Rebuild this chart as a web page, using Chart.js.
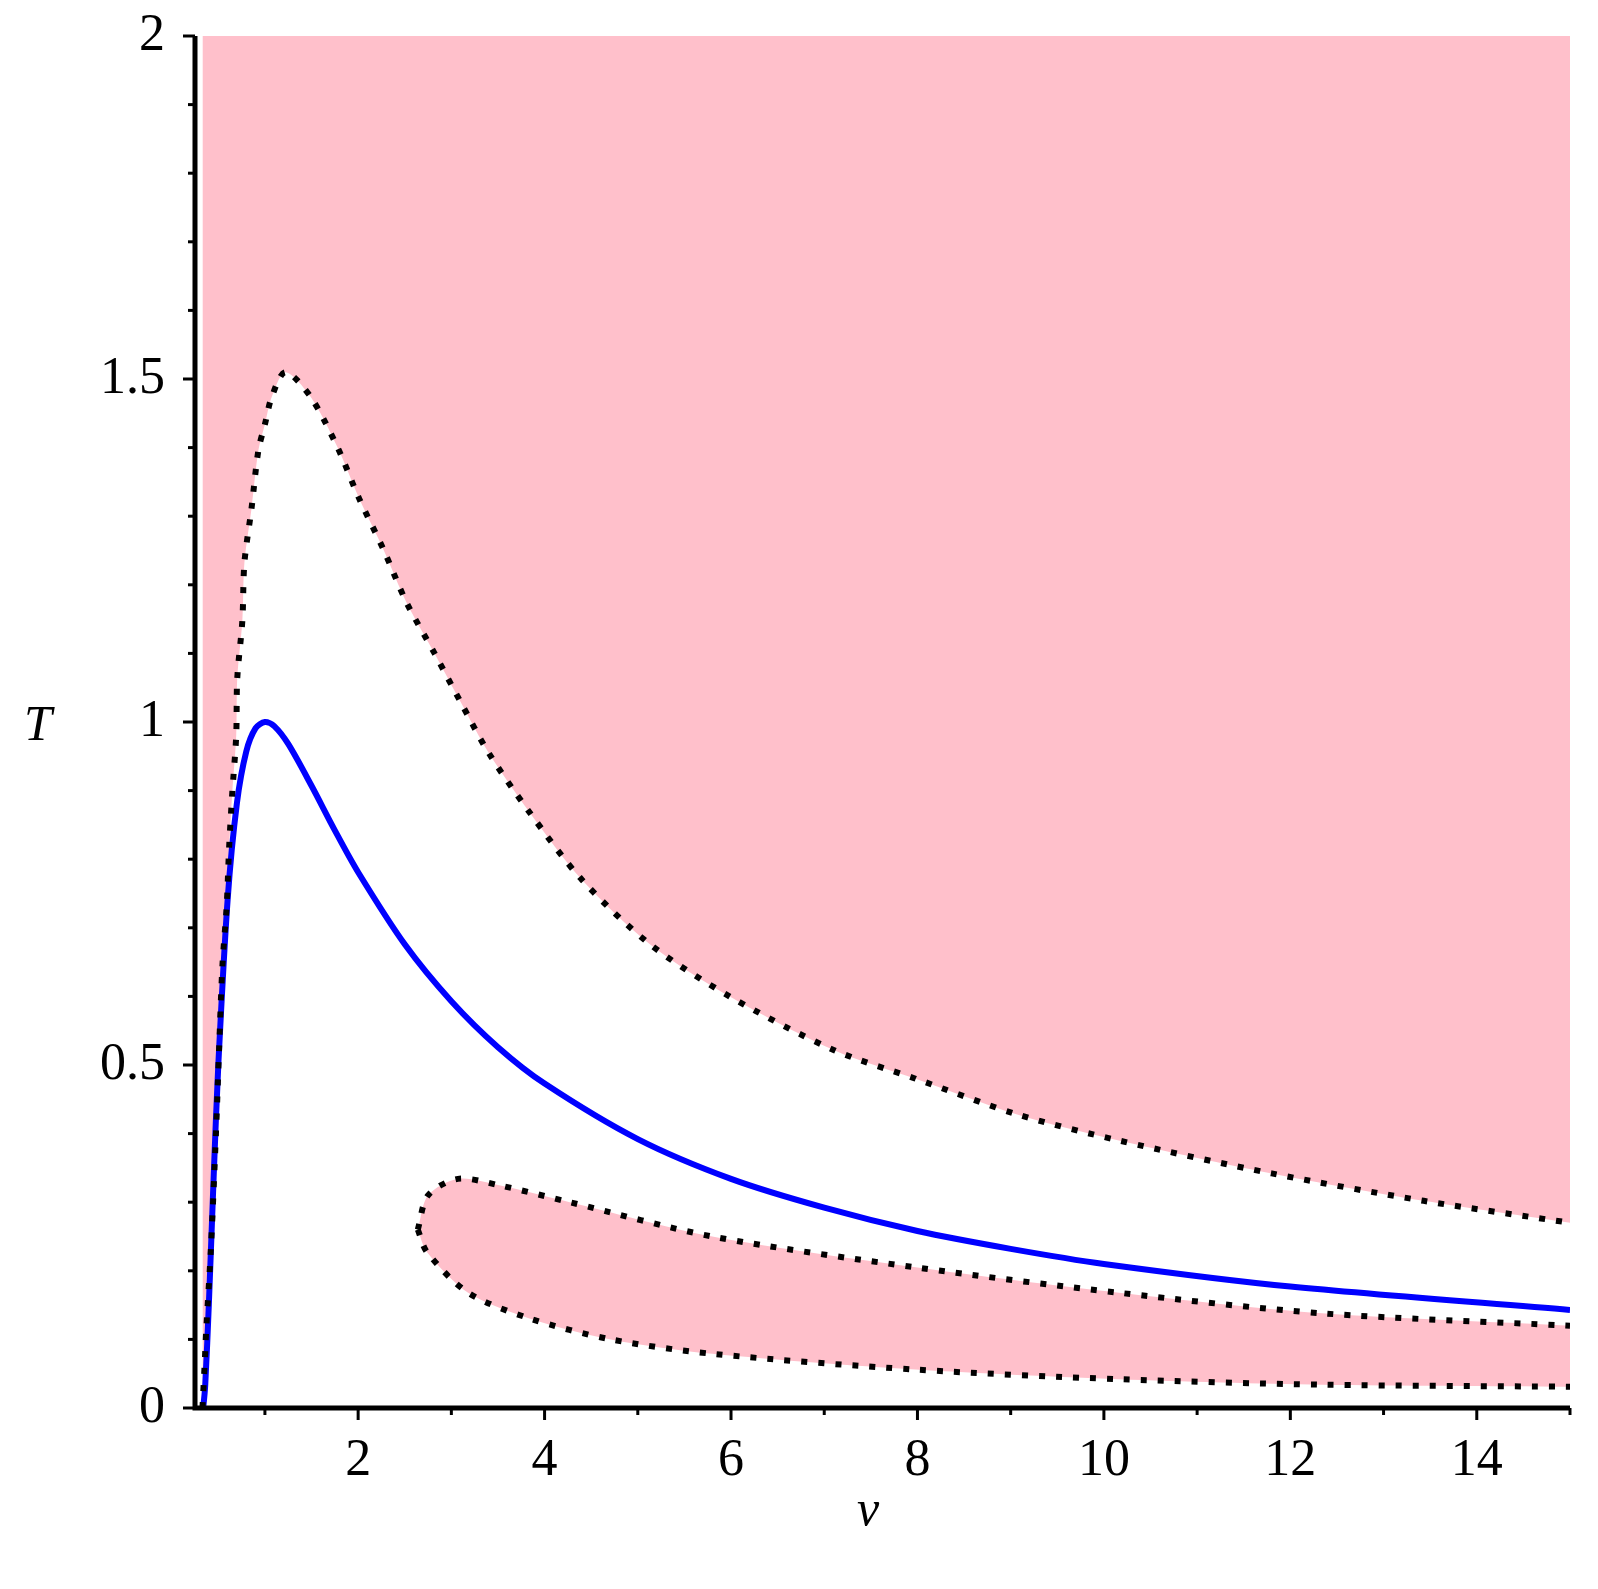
<!DOCTYPE html>
<html>
<head>
<meta charset="utf-8">
<script src="https://cdn.jsdelivr.net/npm/chart.js@4"></script>
<style>
  html, body { margin: 0; padding: 0; background: #fff; }
  #wrap { width: 1598px; height: 1589px; }
</style>
</head>
<body>
<div id="wrap"><canvas id="plot" width="1598" height="1589"></canvas></div>
<script>
// Spinodal (blue)
const spinV = [0.3333, 0.34, 0.36, 0.4, 0.45, 0.5, 0.6, 0.7, 0.8, 0.9, 1, 1.1, 1.25, 1.5, 1.75, 2, 2.5, 3, 3.5, 4, 5, 6, 7, 8, 9, 10, 12, 15];
const spinT = [0, 0.003, 0.034, 0.156, 0.336, 0.5, 0.741, 0.882, 0.957, 0.991, 1, 0.994, 0.968, 0.907, 0.842, 0.781, 0.676, 0.593, 0.526, 0.473, 0.392, 0.334, 0.292, 0.258, 0.232, 0.21, 0.177, 0.143];

// Upper dotted boundary (pink above)
const upperV = [0.33, 0.355, 0.37, 0.42, 0.475, 0.51, 0.545, 0.59, 0.616, 0.649, 0.692, 0.703, 0.758, 0.78, 0.856, 0.93, 1.0, 1.074, 1.22, 1.49, 1.78, 2.01, 2.27, 2.52, 2.82, 3.1, 3.4, 3.83, 4.4, 5.14, 6.01, 7.1, 7.98, 9.07, 10.16, 11.8, 13.43, 15];
const upperT = [0, 0.068, 0.113, 0.231, 0.401, 0.529, 0.647, 0.732, 0.817, 0.895, 0.98, 1.063, 1.148, 1.232, 1.311, 1.396, 1.434, 1.474, 1.51, 1.474, 1.40, 1.326, 1.252, 1.174, 1.10, 1.029, 0.955, 0.87, 0.77, 0.675, 0.598, 0.522, 0.48, 0.428, 0.39, 0.342, 0.302, 0.27];

// Lower closed loop (pink inside)
const loopTopV = [2.64, 2.75, 3.07, 3.5, 4.27, 5.8, 7.98, 10.16, 12.34, 15];
const loopTopT = [0.26, 0.31, 0.334, 0.325, 0.30, 0.25, 0.205, 0.168, 0.138, 0.12];
const loopBotV = [2.64, 2.74, 3.18, 3.83, 4.71, 5.8, 7.98, 10.16, 12.34, 15];
const loopBotT = [0.26, 0.227, 0.168, 0.131, 0.10, 0.079, 0.056, 0.042, 0.034, 0.031];

const xLabels = [2, 4, 6, 8, 10, 12, 14];
const yLabels = [0, 0.5, 1, 1.5, 2];

const pts = (xs, ys) => xs.map((x, i) => ({ x: x, y: ys[i] }));
const PINK = '#FFC0CB';
const FONT = '"Liberation Serif", "Times New Roman", serif';

const dotted = {
    borderColor: '#000',
    borderWidth: 6,
    borderDash: [6, 11],
    pointRadius: 0,
    tension: 0.3
};

// Draw major/minor tick marks, axis lines and titles
const axisDecor = {
    id: 'axisDecor',
    afterDraw(chart) {
        const ctx = chart.ctx;
        const xs = chart.scales.x, ys = chart.scales.y;
        ctx.save();
        ctx.strokeStyle = '#000';
        ctx.lineWidth = 3;
        for (let v = 1; v <= 15; v++) {
            const px = xs.getPixelForValue(v);
            const len = v % 2 === 0 ? 12 : 7;
            ctx.beginPath();
            ctx.moveTo(px, ys.bottom);
            ctx.lineTo(px, ys.bottom + len);
            ctx.stroke();
        }
        for (let i = 0; i <= 20; i++) {
            const py = ys.getPixelForValue(i / 10);
            const len = i % 5 === 0 ? 12 : 7;
            ctx.beginPath();
            ctx.moveTo(xs.left, py);
            ctx.lineTo(xs.left - len, py);
            ctx.stroke();
        }
        ctx.lineWidth = 5;
        ctx.beginPath();
        ctx.moveTo(xs.left, ys.top);
        ctx.lineTo(xs.left, ys.bottom);
        ctx.lineTo(xs.right, ys.bottom);
        ctx.stroke();
        ctx.fillStyle = '#000';
        ctx.font = 'italic 50px ' + FONT;
        ctx.textAlign = 'center';
        ctx.textBaseline = 'middle';
        ctx.fillText('v', 868, 1512);
        ctx.fillText('T', 38, ys.getPixelForValue(1) + 5);
        ctx.restore();
    }
};

new Chart(document.getElementById('plot'), {
    type: 'line',
    data: {
        datasets: [
            Object.assign({ data: pts(upperV, upperT), fill: 'end', backgroundColor: PINK }, dotted),
            Object.assign({ data: pts(loopTopV, loopTopT), fill: '+1', backgroundColor: PINK }, dotted),
            Object.assign({ data: pts(loopBotV, loopBotT), fill: false }, dotted),
            {
                data: pts(spinV, spinT),
                borderColor: '#0000FF',
                borderWidth: 6,
                pointRadius: 0,
                tension: 0.3,
                fill: false
            }
        ]
    },
    options: {
        responsive: false,
        animation: false,
        layout: { padding: { left: 0, right: 28, top: 36, bottom: 0 } },
        plugins: {
            legend: { display: false },
            tooltip: { enabled: false },
            filler: { drawTime: 'beforeDatasetsDraw' }
        },
        scales: {
            x: {
                type: 'linear',
                min: 0.25,
                max: 15,
                afterFit(s) { s.height = 181; s.paddingLeft = 0; s.paddingRight = 0; },
                afterBuildTicks(s) { s.ticks = xLabels.map(v => ({ value: v })); },
                grid: { display: false },
                border: { display: false },
                ticks: { color: '#000', font: { family: FONT, size: 52 }, padding: 14, maxRotation: 0,
                         callback: v => String(v) }
            },
            y: {
                type: 'linear',
                min: 0,
                max: 2,
                afterFit(s) { s.width = 195; s.paddingTop = 0; s.paddingBottom = 0; },
                afterBuildTicks(s) { s.ticks = yLabels.map(v => ({ value: v })); },
                grid: { display: false },
                border: { display: false },
                ticks: { color: '#000', font: { family: FONT, size: 52 }, padding: 22,
                         callback: v => String(v) }
            }
        }
    },
    plugins: [axisDecor]
});
</script>
</body>
</html>
